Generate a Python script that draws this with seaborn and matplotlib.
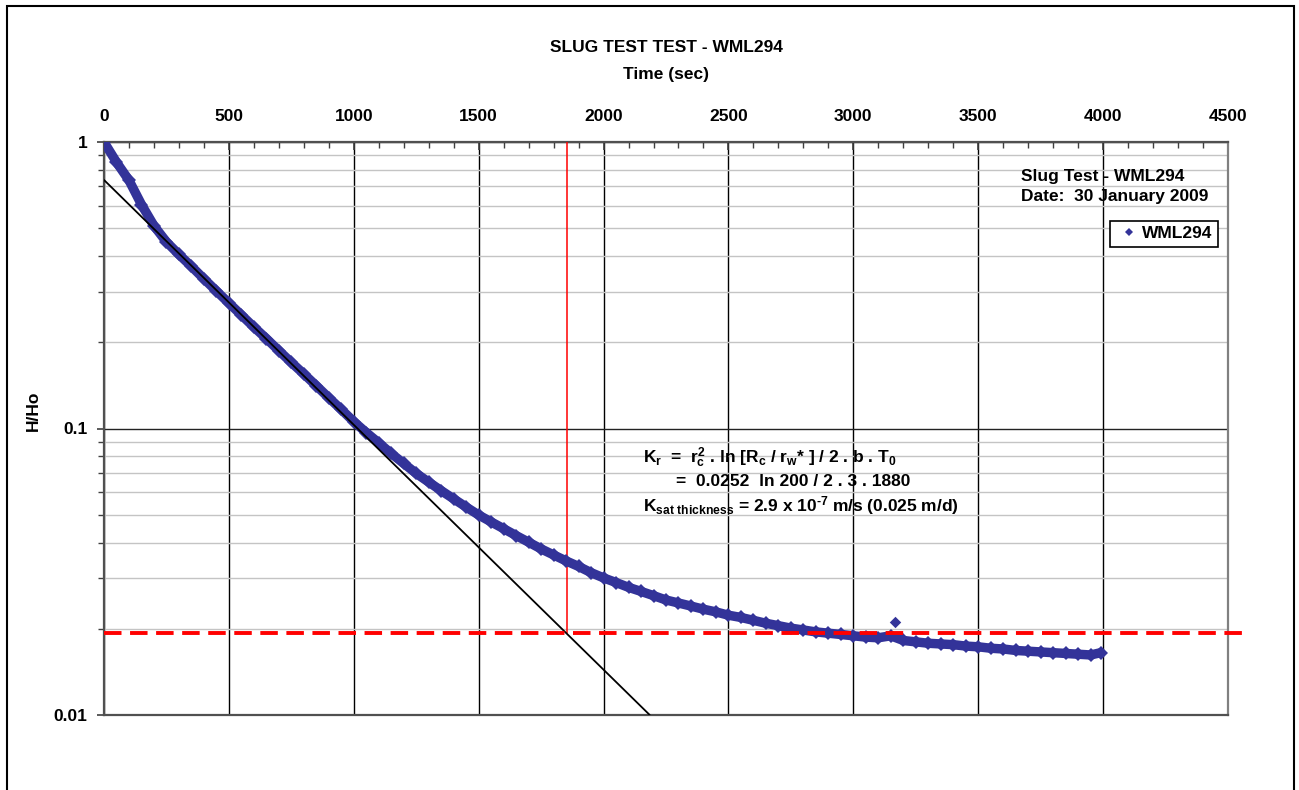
import numpy as np
import pandas as pd
import matplotlib
matplotlib.use("Agg")
import matplotlib.pyplot as plt
import seaborn as sns
from matplotlib.lines import Line2D
from matplotlib.patches import Rectangle
from matplotlib.ticker import FixedLocator, MultipleLocator, LogLocator, NullFormatter, FuncFormatter

# ---------------- data ----------------
TIME_S = [0, 50, 100, 150, 200, 250, 300, 350, 400, 450, 500, 550, 600, 650, 700, 750,
          800, 850, 900, 950, 1000, 1050, 1100, 1150, 1200, 1250, 1300, 1350, 1400, 1450,
          1500, 1550, 1600, 1650, 1700, 1750, 1800, 1850, 1900, 1950, 2000, 2050, 2100,
          2150, 2200, 2250, 2300, 2350, 2400, 2450, 2500, 2550, 2600, 2650, 2700, 2750,
          2800, 2850, 2900, 2950, 3000, 3050, 3100, 3150, 3200, 3250, 3300, 3350, 3400,
          3450, 3500, 3550, 3600, 3650, 3700, 3750, 3800, 3850, 3900, 3950, 3990]
H_HO = [1.000, 0.850, 0.735, 0.605, 0.510, 0.448, 0.405, 0.368, 0.333, 0.302, 0.274,
        0.249, 0.226, 0.206, 0.187, 0.170, 0.155, 0.141, 0.128, 0.1165, 0.1057, 0.0968,
        0.0891, 0.0818, 0.0755, 0.0697, 0.0650, 0.0607, 0.0568, 0.0532, 0.0499, 0.0472,
        0.0447, 0.0423, 0.0401, 0.0380, 0.0362, 0.0345, 0.0330, 0.0314, 0.0301, 0.0290,
        0.0279, 0.0270, 0.0261, 0.0252, 0.0246, 0.0240, 0.0234, 0.0229, 0.0223, 0.0219,
        0.0214, 0.0209, 0.0205, 0.0201, 0.0198, 0.0195, 0.0193, 0.0191, 0.0189, 0.0187,
        0.0186, 0.0189, 0.0182, 0.0180, 0.0178, 0.0177, 0.0176, 0.0174, 0.0173, 0.0171,
        0.0170, 0.0168, 0.0167, 0.0166, 0.0165, 0.0164, 0.0163, 0.0162, 0.0165]
SPIKE_T = [3165]
SPIKE_H = [0.0211]

FIT_T = [0, 2185]
FIT_H = [0.737, 0.01]
T_CROSS = 1855
H_LEVEL = 0.0193
LEVEL_T = [0, 4575]

SERIES = "WML294"
X_TICKS = [0, 500, 1000, 1500, 2000, 2500, 3000, 3500, 4000, 4500]
Y_TICKS = [0.01, 0.1, 1]
Y_LABELS = ["0.01", "0.1", "1"]

# ---------------- style ----------------
W, H = 1299, 790
sns.set_theme(style="white")
plt.rcParams["font.family"] = ["Liberation Sans", "DejaVu Sans"]
plt.rcParams["font.weight"] = "bold"
plt.rcParams["text.color"] = "black"
plt.rcParams["axes.labelcolor"] = "black"
plt.rcParams["xtick.color"] = "black"
plt.rcParams["ytick.color"] = "black"
plt.rcParams["mathtext.fontset"] = "custom"
plt.rcParams["mathtext.rm"] = "Liberation Sans:bold"
plt.rcParams["mathtext.it"] = "Liberation Sans:bold"
plt.rcParams["mathtext.bf"] = "Liberation Sans:bold"

FS = 12.5
NAVY = "#333399"

fig = plt.figure(figsize=(W / 100, H / 100), dpi=100)
L, R, T, B = 104, 1228, 142, 715
ax = fig.add_axes([L / W, 1 - B / H, (R - L) / W, (B - T) / H])

df = pd.DataFrame({"t": TIME_S, "h": H_HO})
sns.lineplot(data=df, x="t", y="h", ax=ax, color=NAVY, lw=6.8, marker="D",
             markersize=7, markeredgewidth=0, zorder=5, legend=False)
sns.scatterplot(x=SPIKE_T, y=SPIKE_H, ax=ax, color=NAVY, marker="D", s=34,
                linewidth=0, zorder=5, legend=False)

sns.lineplot(x=FIT_T, y=FIT_H, ax=ax, color="black", lw=1.3, zorder=6, legend=False)
ax.plot([T_CROSS, T_CROSS], [1, H_LEVEL], color="red", lw=1.1, zorder=4)
ax.plot(LEVEL_T, [H_LEVEL, H_LEVEL], color="red", lw=2.8, dashes=(4.5, 2.2),
        zorder=7, clip_on=False)

ax.set_yscale("log")
ax.set_xlim(0, 4500)
ax.set_ylim(0.01, 1)

ax.xaxis.tick_top()
ax.xaxis.set_label_position("top")
ax.xaxis.set_major_locator(FixedLocator(X_TICKS))
ax.xaxis.set_minor_locator(MultipleLocator(100))
ax.yaxis.set_major_locator(FixedLocator(Y_TICKS))
ax.yaxis.set_major_formatter(FuncFormatter(lambda v, p: Y_LABELS[Y_TICKS.index(min(Y_TICKS, key=lambda q: abs(q - v)))]))
ax.yaxis.set_minor_locator(LogLocator(base=10, subs=np.arange(2, 10)))
ax.yaxis.set_minor_formatter(NullFormatter())

ax.tick_params(axis="x", which="major", direction="in", length=6, width=1.2,
               color="#404040", labelcolor="black", pad=13, labelsize=FS, top=True, bottom=False)
ax.tick_params(axis="x", which="minor", direction="in", length=4, width=1.0,
               color="#404040", top=True, bottom=False)
ax.tick_params(axis="y", which="major", direction="out", length=5, width=1.2,
               color="#404040", labelcolor="black", pad=7, labelsize=FS, left=True)
ax.tick_params(axis="y", which="minor", direction="out", length=4, width=1.0,
               color="#404040", left=True)
for lab in ax.get_xticklabels() + ax.get_yticklabels():
    lab.set_fontweight("bold")

ax.grid(False)
ax.xaxis.grid(True, which="major", color="black", lw=1.0, zorder=1)
ax.yaxis.grid(True, which="major", color="#222222", lw=1.0, zorder=1)
ax.yaxis.grid(True, which="minor", color="#c4c4c4", lw=1.0, zorder=1)
ax.set_axisbelow(True)

for side in ["left", "top", "bottom"]:
    ax.spines[side].set_color("#505050")
    ax.spines[side].set_linewidth(1.6)
ax.spines["right"].set_color("#808080")
ax.spines["right"].set_linewidth(1.6)

ax.set_xlabel("Time (sec)", fontsize=FS, fontweight="bold", color="black")
ax.xaxis.set_label_coords(0.5, (B - 75) / (B - T))
ax.xaxis.label.set_va("center")
ax.set_ylabel("H/Ho", fontsize=FS, fontweight="bold", color="black")
ax.yaxis.set_label_coords((33 - L) / (R - L), (B - 411) / (B - T))
ax.yaxis.label.set_va("center")
ttl = ax.set_title("SLUG TEST TEST - WML294", fontsize=FS, fontweight="bold",
                   color="black", y=(B - 47) / (B - T), pad=0)
ttl.set_va("center")

def fpos(x, y):
    return x / W, 1 - y / H

fig.text(*fpos(1021, 176), "Slug Test - WML294", fontsize=FS, fontweight="bold",
         ha="left", va="center", color="black")
fig.text(*fpos(1021, 197), "Date:  30 January 2009", fontsize=FS, fontweight="bold",
         ha="left", va="center", color="black")

fig.text(*fpos(643, 458), r"$K_r$  =  $r_c^2$ . ln [$R_c$ / $r_w$* ] / 2 . b . $T_0$",
         fontsize=FS, fontweight="bold", ha="left", va="center", color="black")
fig.text(*fpos(676, 482), "=  0.0252  ln 200 / 2 . 3 . 1880",
         fontsize=FS, fontweight="bold", ha="left", va="center", color="black")
fig.text(*fpos(643, 506), "$K_{sat\\ thickness}$ = 2.9 x 10$^{\u2010 7}$ m/s (0.025 m/d)",
         fontsize=FS, fontweight="bold", ha="left", va="center", color="black")

handle = Line2D([], [], color=NAVY, marker="D", markersize=4.5, lw=0,
                markeredgewidth=0)
leg = ax.legend([handle], [SERIES], loc="upper right",
                bbox_to_anchor=((1218 - L) / (R - L), (B - 221) / (B - T)),
                borderaxespad=0, frameon=True, fancybox=False, shadow=False,
                prop={"size": FS, "weight": "bold"}, handlelength=1.6,
                handletextpad=-0.05, borderpad=0.3)
leg.get_frame().set_edgecolor("black")
leg.get_frame().set_linewidth(1.2)
leg.get_frame().set_facecolor("white")
leg.get_frame().set_alpha(1)
leg.set_zorder(10)
for txt in leg.get_texts():
    txt.set_color("black")

fig.patches.append(Rectangle((7 / W, -0.05), (1294 - 7) / W, 1.05 - 6 / H,
                             transform=fig.transFigure, fill=False,
                             edgecolor="black", lw=1.5))

fig.savefig("out.png", dpi=100, facecolor="white")
